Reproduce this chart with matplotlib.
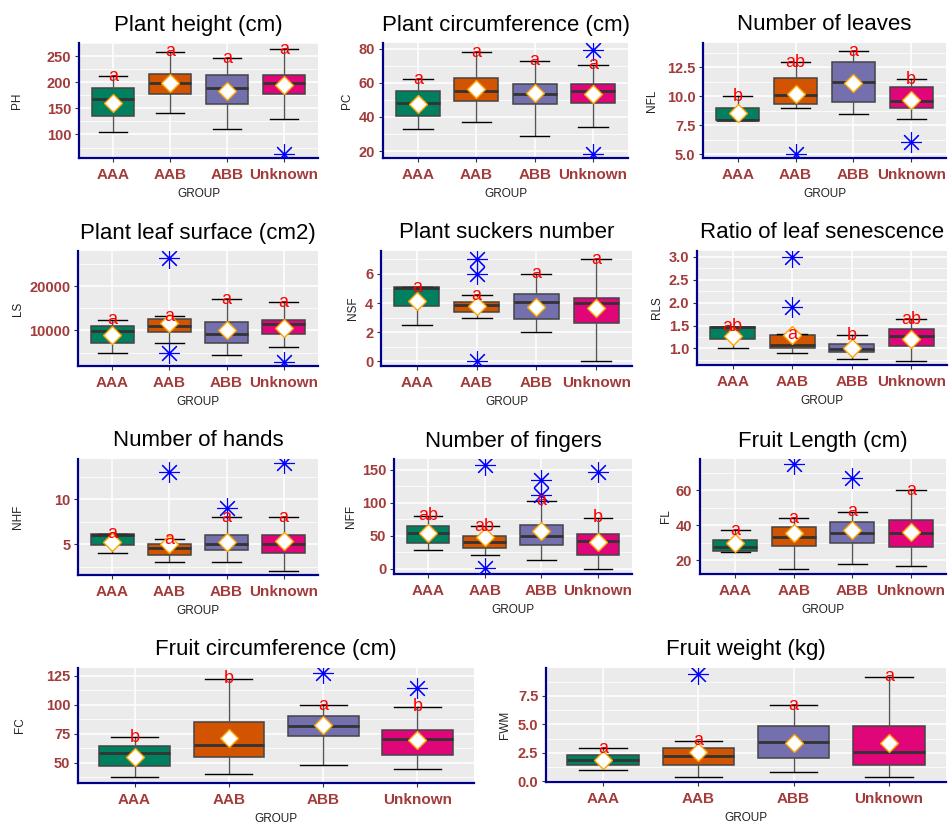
import matplotlib.pyplot as plt
from matplotlib.ticker import AutoMinorLocator

plt.rcParams['font.family'] = ['Liberation Sans', 'DejaVu Sans']

groups = ["AAA", "AAB", "ABB", "Unknown"]
colors = ["#00805F", "#D35400", "#7470AE", "#E1057A"]

# five-number summaries per group: [whisker low, q1, median, q3, whisker high]
ph_box = [[105, 136, 168, 188, 211], [141, 178, 199, 215, 258], [110, 159, 189, 213, 246], [129, 178, 199, 213, 263]]
ph_mean = [161, 199, 184, 194]
ph_out = [[], [], [], [63]]
ph_let = ["a", "a", "a", "a"]

pc_box = [[33, 40.5, 48, 55, 62], [37, 49.5, 55, 62.5, 78], [29, 47.5, 53.5, 59.5, 73], [34, 48, 55, 59.5, 70.5]]
pc_mean = [47.5, 56.5, 54, 53.5]
pc_out = [[], [], [], [79, 18]]
pc_let = ["a", "a", "a", "a"]

nfl_box = [[8, 8, 8, 9, 10], [9, 9.37, 10.09, 11.55, 12.93], [8.48, 9.51, 11.24, 12.93, 13.88], [8.07, 8.99, 9.57, 10.8, 11.47]]
nfl_mean = [8.56, 10.2, 11.15, 9.7]
nfl_out = [[], [5], [], [6.06]]
nfl_let = ["b", "ab", "a", "b"]

ls_box = [[4850, 7200, 9770, 11000, 12400], [7200, 9600, 11000, 12650, 13200], [4500, 7100, 9300, 12000, 17000], [6350, 9250, 11500, 12350, 16400]]
ls_mean = [9000, 11650, 10000, 10600]
ls_out = [[], [26400, 4850], [], [2950]]
ls_let = ["a", "a", "a", "a"]

nsf_box = [[2.5, 3.77, 5.0, 5.07, 5.07], [3.0, 3.36, 3.86, 4.1, 4.52], [2.0, 2.89, 4.07, 4.6, 6.0], [0, 2.6, 4.02, 4.36, 7.0]]
nsf_mean = [4.16, 3.8, 3.75, 3.66]
nsf_out = [[], [7, 6, 0], [], []]
nsf_let = ["a", "a", "a", "a"]

rls_box = [[1.0, 1.21, 1.46, 1.47, 1.47], [0.9, 1.0, 1.065, 1.29, 1.31], [0.775, 0.93, 0.985, 1.1, 1.29], [0.72, 1.06, 1.26, 1.43, 1.64]]
rls_mean = [1.28, 1.3, 1.0, 1.21]
rls_out = [[], [3.0, 1.9], [], []]
rls_let = ["ab", "a", "b", "ab"]

nhf_box = [[4.0, 4.96, 6.06, 6.2, 6.2], [3.1, 3.8, 4.6, 5.0, 5.57], [3.1, 4.4, 5.08, 6.06, 8.0], [2.1, 4.0, 5.08, 6.06, 8.0]]
nhf_mean = [5.3, 5.0, 5.3, 5.4]
nhf_out = [[], [13], [9], [14]]
nhf_let = ["a", "a", "a", "a"]

nff_box = [[27.9, 39.5, 54.2, 65.4, 80.6], [21.8, 30.9, 40.5, 49.2, 64.4], [13.2, 36.5, 49.2, 65.9, 102.9], [0, 21.8, 41.6, 53.2, 77]]
nff_mean = [54, 48, 58, 40.5]
nff_out = [[], [157.6, 2], [135, 112], [147]]
nff_let = ["ab", "ab", "a", "b"]

fl_box = [[24.6, 25.4, 27.7, 31.5, 37.2], [14.8, 28.2, 33.4, 39.1, 44.1], [17.7, 30.1, 35.5, 42, 47.6], [16.6, 27.5, 35.5, 42.8, 60]]
fl_mean = [29.6, 35.7, 37.5, 36]
fl_out = [[], [74.9], [66.9], []]
fl_let = ["a", "a", "a", "a"]

fc_box = [[37.7, 46.9, 58, 64.3, 71.8], [39.7, 55.2, 64.9, 84.9, 122.4], [48, 72.6, 81.8, 90.3, 99.5], [44.8, 56.3, 70, 77.8, 98.4]]
fc_mean = [55.2, 70.9, 82.6, 69.8]
fc_out = [[], [], [127.9], [114.7]]
fc_let = ["b", "b", "a", "b"]

fwm_box = [[1.02, 1.42, 1.83, 2.35, 2.88], [0.38, 1.42, 2.24, 2.9, 3.55], [0.81, 2.03, 3.49, 4.88, 6.69], [0.38, 1.42, 2.56, 4.88, 9.16]]
fwm_mean = [1.89, 2.53, 3.34, 3.34]
fwm_out = [[], [9.42], [], []]
fwm_let = ["a", "a", "a", "a"]

# title, y label, data, y ticks, y tick labels, y limits
panels = [
    ("Plant height (cm)", "PH", ph_box, ph_mean, ph_out, ph_let, [100, 150, 200, 250], None, (55, 275)),
    ("Plant circumference (cm)", "PC", pc_box, pc_mean, pc_out, pc_let, [20, 40, 60, 80], None, (15.9, 83.3)),
    ("Number of leaves", "NFL", nfl_box, nfl_mean, nfl_out, nfl_let, [5, 7.5, 10, 12.5], ["5.0", "7.5", "10.0", "12.5"], (4.68, 14.6)),
    ("Plant leaf surface (cm2)", "LS", ls_box, ls_mean, ls_out, ls_let, [10000, 20000], None, (1970, 27950)),
    ("Plant suckers number", "NSF", nsf_box, nsf_mean, nsf_out, nsf_let, [0, 2, 4, 6], None, (-0.32, 7.57)),
    ("Ratio of leaf senescence", "RLS", rls_box, rls_mean, rls_out, rls_let, [1.0, 1.5, 2.0, 2.5, 3.0], ["1.0", "1.5", "2.0", "2.5", "3.0"], (0.636, 3.13)),
    ("Number of hands", "NHF", nhf_box, nhf_mean, nhf_out, nhf_let, [5, 10], None, (1.6, 14.5)),
    ("Number of fingers", "NFF", nff_box, nff_mean, nff_out, nff_let, [0, 50, 100, 150], None, (-7.6, 166)),
    ("Fruit Length (cm)", "FL", fl_box, fl_mean, fl_out, fl_let, [20, 40, 60], None, (12.2, 77.8)),
    ("Fruit circumference (cm)", "FC", fc_box, fc_mean, fc_out, fc_let, [50, 75, 100, 125], None, (32.3, 131.9)),
    ("Fruit weight (kg)", "FWM", fwm_box, fwm_mean, fwm_out, fwm_let, [0, 2.5, 5, 7.5], ["0.0", "2.5", "5.0", "7.5"], (-0.06, 9.94)),
]

# panel rectangles in pixels (left, top, right, bottom) and x of the y label
rects = [
    (79, 43, 318, 158, 17), (383, 43, 628, 158, 347), (703, 43, 946, 158, 652),
    (78, 251, 318, 366, 18), (381, 251, 632, 366, 353), (697, 251, 947, 365, 657),
    (78, 459, 318, 575, 18), (394, 459, 632, 574, 351), (700, 459, 946, 574, 666),
    (78, 668, 474, 783, 20), (546, 668, 946, 782, 505),
]

W, H = 952, 825
fig = plt.figure(figsize=(W / 100, H / 100), dpi=100)
tick_col = "#A33B3B"
pos = [1, 2, 3, 4]

for (title, ylab, boxes, means, outs, lets, yt, ytl, ylim), (l, t, r, b, yx) in zip(panels, rects):
    ax = fig.add_axes([l / W, 1 - b / H, (r - l) / W, (b - t) / H])
    ax.set_facecolor("#EBEBEB")
    ax.set_axisbelow(True)

    stats = []
    for g, bx, m, o in zip(groups, boxes, means, outs):
        stats.append(dict(label=g, whislo=bx[0], q1=bx[1], med=bx[2], q3=bx[3],
                          whishi=bx[4], mean=m, fliers=o))
    bp = ax.bxp(stats, positions=pos, widths=0.75, capwidths=0.5, patch_artist=True,
                showmeans=True, showfliers=True,
                boxprops=dict(edgecolor="#444444", linewidth=1.1),
                medianprops=dict(color="#333333", linewidth=2.0),
                whiskerprops=dict(color="#555555", linewidth=1.0),
                capprops=dict(color="black", linewidth=1.0),
                meanprops=dict(marker="D", markersize=9.5, markerfacecolor="white",
                               markeredgecolor="#FFA500", markeredgewidth=1.0, zorder=4),
                flierprops=dict(marker=(8, 2, 0), markersize=15, markeredgecolor="#0000FF",
                                markeredgewidth=0.8, linestyle="none", zorder=3))
    for patch, c in zip(bp["boxes"], colors):
        patch.set_facecolor(c)

    for x, bx, lt in zip(pos, boxes, lets):
        ax.text(x, bx[4], lt, color="#FF0000", fontsize=13, ha="center", va="center", zorder=5)

    ax.set_xlim(0.4, 4.6)
    ax.set_ylim(*ylim)
    ax.set_yticks(yt)
    if ytl:
        ax.set_yticklabels(ytl)
    ax.yaxis.set_minor_locator(AutoMinorLocator(2))
    ax.grid(which="major", color="white", linewidth=1.1)
    ax.grid(which="minor", axis="y", color="white", linewidth=0.55)
    ax.tick_params(which="minor", length=0)
    ax.tick_params(which="major", length=3, color="#333333", width=0.8)
    ax.tick_params(axis="x", pad=4)
    ax.tick_params(axis="y", pad=2.5)
    for lab in ax.get_xticklabels():
        lab.set_fontsize(11)
        lab.set_fontweight("bold")
        lab.set_color(tick_col)
    for lab in ax.get_yticklabels():
        lab.set_fontsize(10.5)
        lab.set_fontweight("bold")
        lab.set_color(tick_col)

    for s in ["top", "right"]:
        ax.spines[s].set_visible(False)
    for s in ["left", "bottom"]:
        ax.spines[s].set_color("#00008B")
        ax.spines[s].set_linewidth(1.6)

    ax.set_title(title, fontsize=16, pad=9)
    ax.set_xlabel("GROUP", fontsize=8.5, color="#222222")
    ax.xaxis.set_label_coords(0.5, -36 / (b - t))
    ax.xaxis.label.set_va("center")
    ax.set_ylabel(ylab, fontsize=8.5, color="#222222")
    ax.yaxis.set_label_coords((yx - l) / (r - l), 0.5)
    ax.yaxis.label.set_va("center")

fig.savefig("out.png", dpi=100)
